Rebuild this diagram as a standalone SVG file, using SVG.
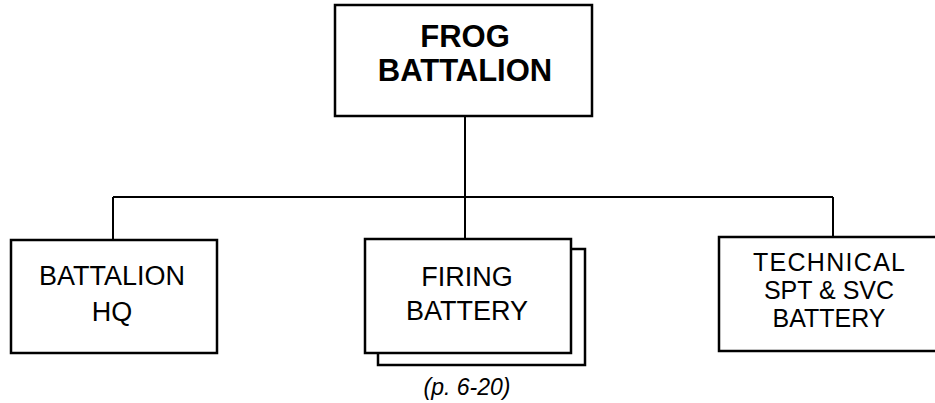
<svg xmlns="http://www.w3.org/2000/svg" width="935" height="403" viewBox="0 0 935 403">
<style>
.box{fill:#fff;stroke:#000;stroke-width:2.5}
.ln{fill:none;stroke:#000;stroke-width:2}
.t{font-family:"Liberation Sans",Arial,sans-serif;font-size:27px;fill:#000;text-anchor:middle}
.b{font-weight:bold;font-size:31px}
.s{font-size:25px}
.c{font-style:italic;font-size:23px}
</style>
<rect width="935" height="403" fill="#fff"/>
<g id="connectors">
<path class="ln" d="M465,116 V239 M113,197 H833 M113,197 V240 M833,197 V237"/>
</g>
<g id="frog-battalion">
<rect class="box" x="335" y="5" width="257" height="111"/>
<text class="t b" x="465" y="47">FROG</text>
<text class="t b" x="465" y="81">BATTALION</text>
</g>
<g id="battalion-hq">
<rect class="box" x="11" y="240" width="206" height="113"/>
<text class="t" x="112" y="285">BATTALION</text>
<text class="t" x="112" y="321">HQ</text>
</g>
<g id="firing-battery">
<rect class="box" x="378" y="249" width="207" height="116"/>
<rect class="box" x="365" y="239" width="206" height="114"/>
<text class="t" x="467" y="286">FIRING</text>
<text class="t" x="467" y="320">BATTERY</text>
</g>
<g id="technical-battery">
<rect class="box" x="719" y="237" width="230" height="114"/>
<text class="t s" x="829" y="271" textLength="152">TECHNICAL</text>
<text class="t s" x="829" y="299">SPT &amp; SVC</text>
<text class="t s" x="829" y="327">BATTERY</text>
</g>
<text class="t c" x="467" y="395">(p. 6-20)</text>
</svg>
